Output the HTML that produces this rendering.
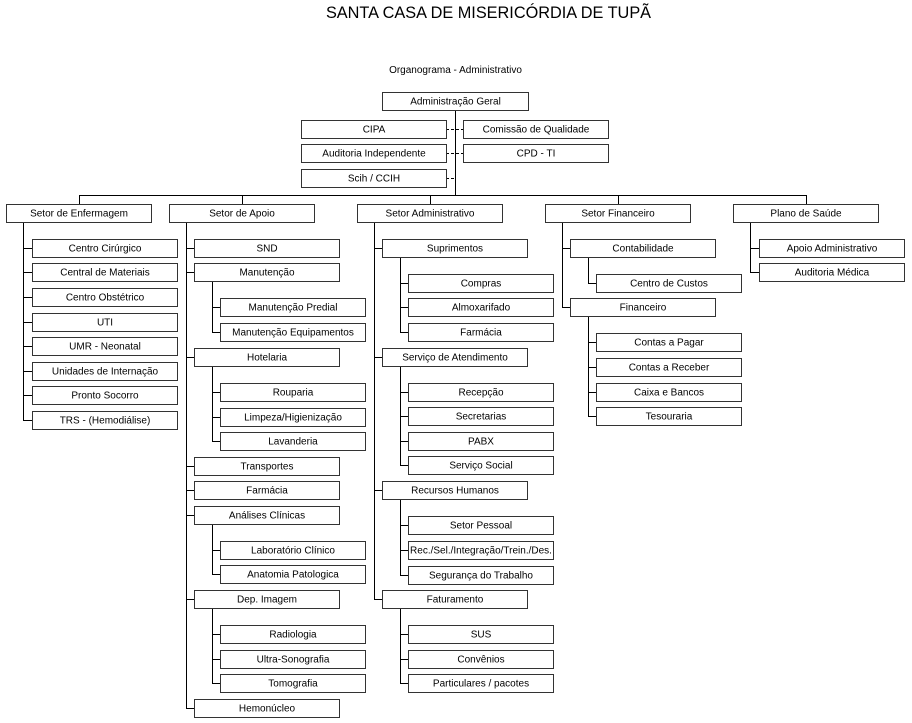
<!DOCTYPE html>
<html><head><meta charset="utf-8"><style>
html,body{margin:0;padding:0;background:#fff;}
svg{display:block;}
text{font-family:"Liberation Sans",Arial,sans-serif;font-size:10px;fill:#000;text-anchor:middle;}
.b{fill:#fff;stroke:#333;stroke-width:1;}
.l{stroke:#000;stroke-width:1;fill:none;}
.d{stroke:#000;stroke-width:1;fill:none;stroke-dasharray:3,2;}
</style></head><body>
<svg width="912" height="723" viewBox="0 0 912 723" xmlns="http://www.w3.org/2000/svg">
<text x="488.5" y="18" style="font-size:16.3px">SANTA CASA DE MISERICÓRDIA DE TUPÃ</text>
<text x="455.5" y="73">Organograma - Administrativo</text>

<!-- connectors top -->
<path class="l" d="M455.5 110V195.5M79.5 195.5H806.5M79.5 195V204M242.5 195V204M430.5 195V204M618.5 195V204M806.5 195V204"/>
<path class="d" d="M446 129.5H463M446 153.5H463M446 178.5H455"/>

<!-- Enfermagem connectors -->
<path class="l" d="M23.5 222V420.5M23 248.5H32M23 272.5H32M23 297.5H32M23 322.5H32M23 346.5H32M23 371.5H32M23 395.5H32M23 420.5H32"/>
<!-- Apoio connectors -->
<path class="l" d="M186.5 222V708.5M186 248.5H194M186 272.5H194M186 357.5H194M186 466.5H194M186 490.5H194M186 515.5H194M186 599.5H194M186 708.5H194
M212.5 281V332.5M212 307.5H220M212 332.5H220
M212.5 366V441.5M212 392.5H220M212 417.5H220M212 441.5H220
M212.5 524V574.5M212 550.5H220M212 574.5H220
M212.5 608V683.5M212 634.5H220M212 659.5H220M212 683.5H220"/>
<!-- Admin connectors -->
<path class="l" d="M374.5 222V599.5M374 248.5H382M374 357.5H382M374 490.5H382M374 599.5H382
M400.5 257V332.5M400 283.5H408M400 307.5H408M400 332.5H408
M400.5 366V465.5M400 392.5H408M400 416.5H408M400 441.5H408M400 465.5H408
M400.5 499V575.5M400 525.5H408M400 550.5H408M400 575.5H408
M400.5 608V683.5M400 634.5H408M400 659.5H408M400 683.5H408"/>
<!-- Fin connectors -->
<path class="l" d="M562.5 222V307.5M562 248.5H570M562 307.5H570
M588.5 257V283.5M588 283.5H596
M588.5 316V416.5M588 342.5H596M588 367.5H596M588 392.5H596M588 416.5H596"/>
<!-- Plano connectors -->
<path class="l" d="M750.5 222V272.5M750 248.5H759M750 272.5H759"/>

<!-- top boxes -->
<rect class="b" x="382.5" y="92.5" width="146" height="18"/><text x="455.5" y="104.5">Administração Geral</text>
<rect class="b" x="301.5" y="120.5" width="145" height="18"/><text x="374" y="132.5">CIPA</text>
<rect class="b" x="301.5" y="144.5" width="145" height="18"/><text x="374" y="156.5">Auditoria Independente</text>
<rect class="b" x="301.5" y="169.5" width="145" height="18"/><text x="374" y="181.5">Scih / CCIH</text>
<rect class="b" x="463.5" y="120.5" width="145" height="18"/><text x="536" y="132.5">Comissão de Qualidade</text>
<rect class="b" x="463.5" y="144.5" width="145" height="18"/><text x="536" y="156.5">CPD - TI</text>

<!-- level 1 -->
<rect class="b" x="6.5" y="204.5" width="145" height="18"/><text x="79" y="216.5">Setor de Enfermagem</text>
<rect class="b" x="169.5" y="204.5" width="145" height="18"/><text x="242" y="216.5">Setor de Apoio</text>
<rect class="b" x="357.5" y="204.5" width="145" height="18"/><text x="430" y="216.5">Setor Administrativo</text>
<rect class="b" x="545.5" y="204.5" width="145" height="18"/><text x="618" y="216.5">Setor Financeiro</text>
<rect class="b" x="733.5" y="204.5" width="145" height="18"/><text x="806" y="216.5">Plano de Saúde</text>

<!-- Enfermagem children -->
<rect class="b" x="32.5" y="239.5" width="145" height="18"/><text x="105" y="251.5">Centro Cirúrgico</text>
<rect class="b" x="32.5" y="263.5" width="145" height="18"/><text x="105" y="275.5">Central de Materiais</text>
<rect class="b" x="32.5" y="288.5" width="145" height="18"/><text x="105" y="300.5">Centro Obstétrico</text>
<rect class="b" x="32.5" y="313.5" width="145" height="18"/><text x="105" y="325.5">UTI</text>
<rect class="b" x="32.5" y="337.5" width="145" height="18"/><text x="105" y="349.5">UMR - Neonatal</text>
<rect class="b" x="32.5" y="362.5" width="145" height="18"/><text x="105" y="374.5">Unidades de Internação</text>
<rect class="b" x="32.5" y="386.5" width="145" height="18"/><text x="105" y="398.5">Pronto Socorro</text>
<rect class="b" x="32.5" y="411.5" width="145" height="18"/><text x="105" y="423.5">TRS - (Hemodiálise)</text>

<!-- Apoio children -->
<rect class="b" x="194.5" y="239.5" width="145" height="18"/><text x="267" y="251.5">SND</text>
<rect class="b" x="194.5" y="263.5" width="145" height="18"/><text x="267" y="275.5">Manutenção</text>
<rect class="b" x="220.5" y="298.5" width="145" height="18"/><text x="293" y="310.5">Manutenção Predial</text>
<rect class="b" x="220.5" y="323.5" width="145" height="18"/><text x="293" y="335.5">Manutenção Equipamentos</text>
<rect class="b" x="194.5" y="348.5" width="145" height="18"/><text x="267" y="360.5">Hotelaria</text>
<rect class="b" x="220.5" y="383.5" width="145" height="18"/><text x="293" y="395.5">Rouparia</text>
<rect class="b" x="220.5" y="408.5" width="145" height="18"/><text x="293" y="420.5">Limpeza/Higienização</text>
<rect class="b" x="220.5" y="432.5" width="145" height="18"/><text x="293" y="444.5">Lavanderia</text>
<rect class="b" x="194.5" y="457.5" width="145" height="18"/><text x="267" y="469.5">Transportes</text>
<rect class="b" x="194.5" y="481.5" width="145" height="18"/><text x="267" y="493.5">Farmácia</text>
<rect class="b" x="194.5" y="506.5" width="145" height="18"/><text x="267" y="518.5">Análises Clínicas</text>
<rect class="b" x="220.5" y="541.5" width="145" height="18"/><text x="293" y="553.5">Laboratório Clínico</text>
<rect class="b" x="220.5" y="565.5" width="145" height="18"/><text x="293" y="577.5">Anatomia Patologica</text>
<rect class="b" x="194.5" y="590.5" width="145" height="18"/><text x="267" y="602.5">Dep. Imagem</text>
<rect class="b" x="220.5" y="625.5" width="145" height="18"/><text x="293" y="637.5">Radiologia</text>
<rect class="b" x="220.5" y="650.5" width="145" height="18"/><text x="293" y="662.5">Ultra-Sonografia</text>
<rect class="b" x="220.5" y="674.5" width="145" height="18"/><text x="293" y="686.5">Tomografia</text>
<rect class="b" x="194.5" y="699.5" width="145" height="18"/><text x="267" y="711.5">Hemonúcleo</text>

<!-- Admin children -->
<rect class="b" x="382.5" y="239.5" width="145" height="18"/><text x="455" y="251.5">Suprimentos</text>
<rect class="b" x="408.5" y="274.5" width="145" height="18"/><text x="481" y="286.5">Compras</text>
<rect class="b" x="408.5" y="298.5" width="145" height="18"/><text x="481" y="310.5">Almoxarifado</text>
<rect class="b" x="408.5" y="323.5" width="145" height="18"/><text x="481" y="335.5">Farmácia</text>
<rect class="b" x="382.5" y="348.5" width="145" height="18"/><text x="455" y="360.5">Serviço de Atendimento</text>
<rect class="b" x="408.5" y="383.5" width="145" height="18"/><text x="481" y="395.5">Recepção</text>
<rect class="b" x="408.5" y="407.5" width="145" height="18"/><text x="481" y="419.5">Secretarias</text>
<rect class="b" x="408.5" y="432.5" width="145" height="18"/><text x="481" y="444.5">PABX</text>
<rect class="b" x="408.5" y="456.5" width="145" height="18"/><text x="481" y="468.5">Serviço Social</text>
<rect class="b" x="382.5" y="481.5" width="145" height="18"/><text x="455" y="493.5">Recursos Humanos</text>
<rect class="b" x="408.5" y="516.5" width="145" height="18"/><text x="481" y="528.5">Setor Pessoal</text>
<rect class="b" x="408.5" y="541.5" width="145" height="18"/><text x="481" y="553.5">Rec./Sel./Integração/Trein./Des.</text>
<rect class="b" x="408.5" y="566.5" width="145" height="18"/><text x="481" y="578.5">Segurança do Trabalho</text>
<rect class="b" x="382.5" y="590.5" width="145" height="18"/><text x="455" y="602.5">Faturamento</text>
<rect class="b" x="408.5" y="625.5" width="145" height="18"/><text x="481" y="637.5">SUS</text>
<rect class="b" x="408.5" y="650.5" width="145" height="18"/><text x="481" y="662.5">Convênios</text>
<rect class="b" x="408.5" y="674.5" width="145" height="18"/><text x="481" y="686.5">Particulares / pacotes</text>

<!-- Fin children -->
<rect class="b" x="570.5" y="239.5" width="145" height="18"/><text x="643" y="251.5">Contabilidade</text>
<rect class="b" x="596.5" y="274.5" width="145" height="18"/><text x="669" y="286.5">Centro de Custos</text>
<rect class="b" x="570.5" y="298.5" width="145" height="18"/><text x="643" y="310.5">Financeiro</text>
<rect class="b" x="596.5" y="333.5" width="145" height="18"/><text x="669" y="345.5">Contas a Pagar</text>
<rect class="b" x="596.5" y="358.5" width="145" height="18"/><text x="669" y="370.5">Contas a Receber</text>
<rect class="b" x="596.5" y="383.5" width="145" height="18"/><text x="669" y="395.5">Caixa e Bancos</text>
<rect class="b" x="596.5" y="407.5" width="145" height="18"/><text x="669" y="419.5">Tesouraria</text>

<!-- Plano children -->
<rect class="b" x="759.5" y="239.5" width="145" height="18"/><text x="832" y="251.5">Apoio Administrativo</text>
<rect class="b" x="759.5" y="263.5" width="145" height="18"/><text x="832" y="275.5">Auditoria Médica</text>
</svg>
</body></html>
